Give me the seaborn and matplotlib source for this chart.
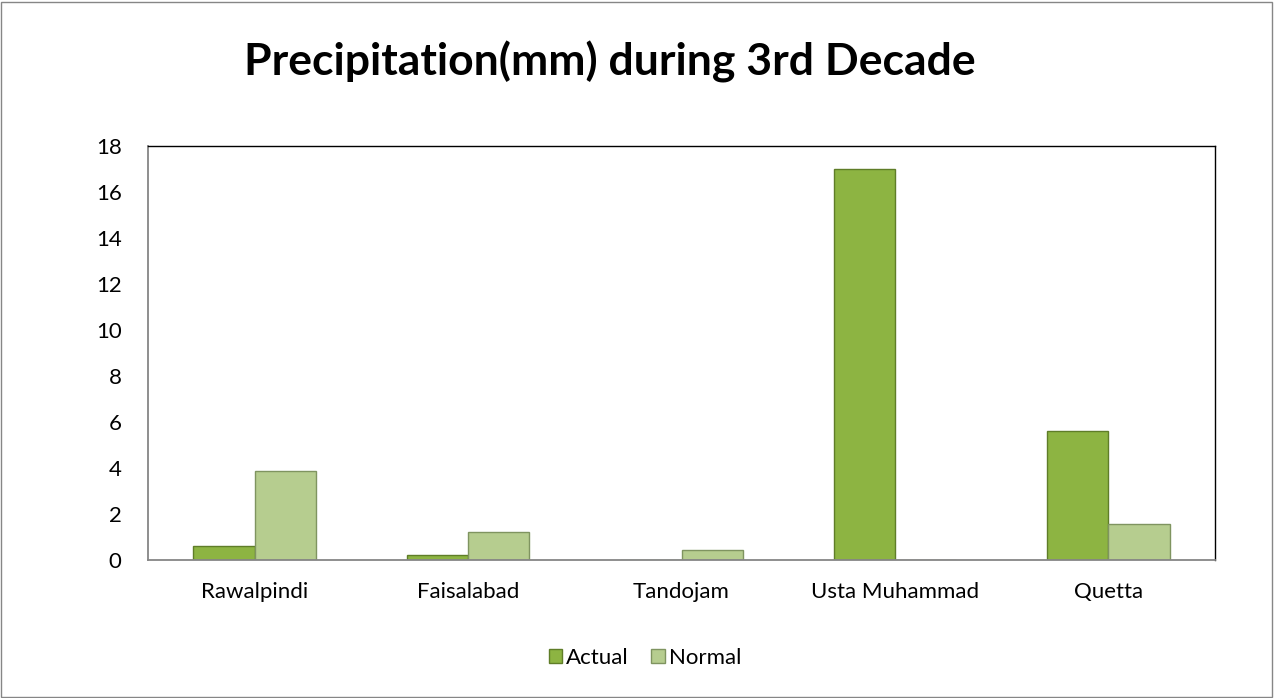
import pandas as pd
import numpy as np
import matplotlib
matplotlib.use("Agg")
import matplotlib.pyplot as plt
import seaborn as sns
from matplotlib.patches import Rectangle

# data
stations = ["Rawalpindi", "Faisalabad", "Tandojam", "Usta Muhammad", "Quetta"]
actual = [0.6, 0.2, 0.0, 17.0, 5.6]
normal = [3.85, 1.2, 0.45, 0.0, 1.55]
series = ["Actual", "Normal"]
colors = {"Actual": "#8db442", "Normal": "#b6cd8f"}
edges = {"Actual": "#5f7d28", "Normal": "#7f9460"}

df = pd.DataFrame({
    "station": stations * 2,
    "value": actual + normal,
    "series": ["Actual"] * len(stations) + ["Normal"] * len(stations),
})

sns.set_style("white")
plt.rcParams["font.family"] = ["Lato", "DejaVu Sans"]
plt.rcParams["text.color"] = "black"
plt.rcParams["xtick.labelcolor"] = "black"
plt.rcParams["ytick.labelcolor"] = "black"

fig = plt.figure(figsize=(12.75, 6.98), dpi=100)
ax = fig.add_axes([148 / 1275, 1 - 560 / 698, (1215 - 148) / 1275, (560 - 146) / 698])

sns.barplot(data=df, x="station", y="value", hue="series", order=stations,
            hue_order=series, palette=colors, width=0.575, gap=0,
            saturation=1, ax=ax, legend=False)

for cont, s in zip(ax.containers, series):
    for bar in cont:
        bar.set_edgecolor(edges[s])
        bar.set_linewidth(1.0)

ax.set_xlim(-0.5, len(stations) - 0.5)
ax.set_ylim(0, 18)
ax.set_yticks(np.arange(0, 19, 2))
ax.set_xlabel("")
ax.set_ylabel("")

# ticks: labels centred, tick marks at category boundaries
ax.set_xticks(range(len(stations)))
ax.set_xticklabels(stations, fontsize=16)
ax.set_xticks(np.arange(-0.5, len(stations), 1), minor=True)
ax.tick_params(axis="x", which="major", length=0, pad=16)
ax.tick_params(axis="x", which="minor", length=8, width=1, color="#868686", direction="out")
ax.tick_params(axis="y", length=9, width=1, color="#868686", direction="out", labelsize=16, pad=10)

for side in ["left", "bottom"]:
    ax.spines[side].set_color("#868686")
    ax.spines[side].set_linewidth(1.3)
for side in ["top", "right"]:
    ax.spines[side].set_color("#000000")
    ax.spines[side].set_linewidth(1.0)

fig.text(610 / 1275, 1 - 62 / 698, "Precipitation(mm) during 3rd Decade",
         ha="center", va="center", fontsize=32, fontweight="bold")

# legend
handles = [Rectangle((0, 0), 1, 1, facecolor=colors[s], edgecolor=edges[s]) for s in series]
fig.legend(handles, series, loc="center", bbox_to_anchor=(645 / 1275, 1 - 658 / 698),
           ncol=2, frameon=False, fontsize=16, handlelength=0.6, handleheight=0.6,
           handletextpad=0.2, columnspacing=1.0)

# outer border
fig.patches.append(Rectangle((0.001, 0.0015), 0.997, 0.996, transform=fig.transFigure,
                             fill=False, edgecolor="#868686", linewidth=1.0))

fig.savefig("out.png", dpi=100)
